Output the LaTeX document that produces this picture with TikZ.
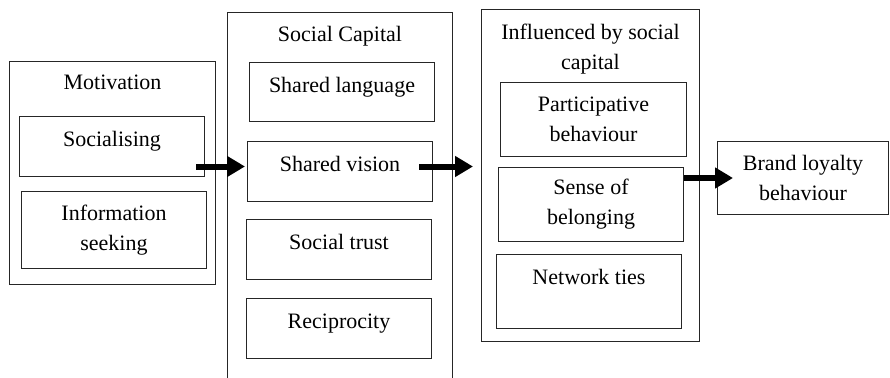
\documentclass[tikz,border=0pt]{standalone}
\usepackage{fontspec}
\setmainfont{Liberation Serif}
\usetikzlibrary{arrows.meta}

\begin{document}
\begin{tikzpicture}[x=1pt, y=-1pt,
    box/.style={draw=black!85, line width=1pt, anchor=north west, align=center,
      font=\fontsize{22}{30}\selectfont},
    onebox/.style={box, inner ysep=0pt, text height=30pt, text depth=#1},
    title/.style={anchor=north, inner sep=0pt, align=center,
      font=\fontsize{22}{30}\selectfont},
    flow/.style={line width=6pt, -{Triangle[length=18pt, width=20pt]}}]
    \useasboundingbox (0, 0) rectangle (890, 377);
    \clip (0, 0) rectangle (890, 377);

    % motivation
    \node[box, minimum width=206pt, minimum height=223pt](mot) at (9, 61){};
    \node[title](motT) at ([yshift=-14pt]mot.north){Motivation};
    \node[onebox=30pt, minimum width=185pt, minimum height=60pt](socl) at (19, 116){Socialising};
    \node[box, minimum width=185pt, minimum height=77pt](info) at (21, 191){Information\\seeking};

    % social capital, runs off the bottom
    \node[box, minimum width=225pt, minimum height=400pt](soc) at (227, 12){};
    \node[title](socT) at ([yshift=-14pt]soc.north){Social Capital};
    \node[onebox=29pt, minimum width=185pt, minimum height=59pt](shlang) at (249, 62){Shared language};
    \node[onebox=30pt, minimum width=185pt, minimum height=60pt](shvis) at (247, 141){Shared vision};
    \node[onebox=30pt, minimum width=185pt, minimum height=60pt](strust) at (246, 219){Social trust};
    \node[onebox=30pt, minimum width=185pt, minimum height=60pt](recip) at (246, 298){Reciprocity};

    % influenced by social capital
    \node[box, minimum width=218pt, minimum height=332pt](inf) at (481, 9){};
    \node[title](infT) at ([yshift=-15pt]inf.north){Influenced by social\\capital};
    \node[box, minimum width=186pt, minimum height=74pt](partic) at (500, 82){Participative\\behaviour};
    \node[box, minimum width=185pt, minimum height=74pt](sense) at (498, 167){Sense of\\belonging};
    \node[onebox=44pt, minimum width=185pt, minimum height=74pt](netw) at (496, 254){Network ties};

    % brand loyalty
    \node[box, minimum width=171pt, minimum height=73pt](brand) at (717, 141){Brand loyalty\\behaviour};

    % arrows
    \draw[flow] ([xshift=-9pt, yshift=-20pt]socl.east) -- ([xshift=-2pt, yshift=5pt]shvis.west);
    \draw[flow] ([xshift=-14pt, yshift=5pt]shvis.east) -- ([xshift=-8pt, yshift=9pt]inf.west);
    \draw[flow] (brand.west -| sense.east) -- ([xshift=16pt]brand.west);
\end{tikzpicture}
\end{document}
